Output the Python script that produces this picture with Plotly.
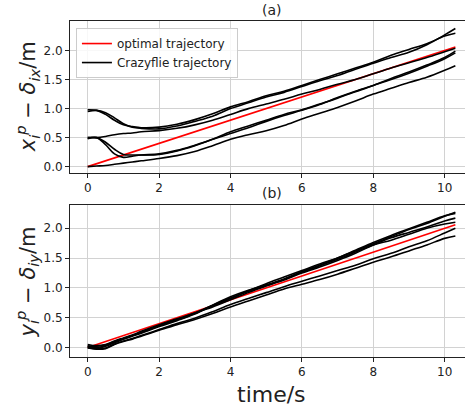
import plotly.graph_objects as go

# time axis (s)
t = [0, 0.25, 0.5, 0.75, 1.0, 1.25, 1.5, 2.0, 2.5, 3.0, 3.5, 4.0, 4.5, 5.0,
     5.5, 6.0, 6.5, 7.0, 7.5, 8.0, 8.5, 9.0, 9.5, 10.0, 10.3]

# optimal trajectory (same for x and y)
opt_t = [0, 10.3]
opt_v = [0.0, 2.06]

# (a) x-direction Crazyflie trajectories
xa1 = [0.98, 0.97, 0.90, 0.80, 0.72, 0.69, 0.67, 0.68, 0.73, 0.81, 0.91, 1.03, 1.12, 1.22,
       1.30, 1.40, 1.50, 1.60, 1.70, 1.80, 1.92, 2.02, 2.12, 2.25, 2.30]
xa2 = [0.95, 0.97, 0.93, 0.84, 0.74, 0.68, 0.66, 0.65, 0.70, 0.78, 0.87, 1.00, 1.10, 1.20,
       1.28, 1.38, 1.48, 1.57, 1.68, 1.78, 1.88, 1.97, 2.10, 2.27, 2.38]
xb = [0.50, 0.50, 0.52, 0.55, 0.57, 0.58, 0.60, 0.62, 0.66, 0.72, 0.80, 0.90, 1.00, 1.08,
      1.16, 1.25, 1.33, 1.42, 1.50, 1.60, 1.70, 1.79, 1.88, 1.98, 2.04]
xc1 = [0.50, 0.50, 0.42, 0.30, 0.21, 0.20, 0.20, 0.21, 0.27, 0.36, 0.47, 0.60, 0.70, 0.80,
       0.90, 0.98, 1.08, 1.18, 1.29, 1.40, 1.52, 1.63, 1.75, 1.88, 1.99]
xc2 = [0.48, 0.50, 0.38, 0.22, 0.16, 0.18, 0.20, 0.22, 0.28, 0.37, 0.47, 0.57, 0.67, 0.78,
       0.88, 0.97, 1.07, 1.19, 1.30, 1.40, 1.50, 1.61, 1.73, 1.86, 1.96]
xd = [0.00, 0.01, 0.02, 0.04, 0.06, 0.08, 0.10, 0.14, 0.19, 0.26, 0.36, 0.47, 0.55, 0.62,
      0.71, 0.82, 0.92, 1.02, 1.13, 1.25, 1.35, 1.45, 1.54, 1.66, 1.74]
x_series = [xa1, xa2, xb, xc1, xc2, xd]

# (b) y-direction Crazyflie trajectories
ye1 = [0.03, 0.02, 0.04, 0.10, 0.15, 0.20, 0.25, 0.36, 0.46, 0.57, 0.70, 0.82, 0.95, 1.07,
       1.18, 1.29, 1.40, 1.50, 1.62, 1.74, 1.86, 1.98, 2.08, 2.20, 2.27]
ye2 = [0.00, -0.02, 0.02, 0.08, 0.14, 0.20, 0.25, 0.37, 0.47, 0.58, 0.68, 0.80, 0.92, 1.03,
       1.14, 1.27, 1.38, 1.50, 1.63, 1.76, 1.88, 1.99, 2.10, 2.21, 2.25]
ye3 = [0.05, 0.03, 0.05, 0.11, 0.16, 0.21, 0.27, 0.38, 0.48, 0.58, 0.71, 0.83, 0.94, 1.04,
       1.13, 1.25, 1.35, 1.46, 1.58, 1.72, 1.84, 1.93, 2.02, 2.12, 2.17]
ye4 = [0.02, 0.00, 0.03, 0.09, 0.14, 0.19, 0.24, 0.35, 0.45, 0.56, 0.71, 0.85, 0.96, 1.05,
       1.15, 1.27, 1.37, 1.48, 1.60, 1.72, 1.80, 1.90, 2.00, 2.07, 2.10]
yf1 = [0.01, -0.02, -0.01, 0.06, 0.11, 0.15, 0.20, 0.30, 0.40, 0.49, 0.60, 0.72, 0.82, 0.92,
       1.02, 1.11, 1.20, 1.29, 1.38, 1.49, 1.58, 1.69, 1.79, 1.92, 2.00]
yf2 = [-0.01, -0.03, -0.02, 0.05, 0.10, 0.14, 0.19, 0.29, 0.38, 0.47, 0.57, 0.68, 0.78, 0.88,
       0.98, 1.06, 1.14, 1.23, 1.33, 1.43, 1.52, 1.62, 1.72, 1.83, 1.87]
y_series = [ye1, ye2, ye3, ye4, yf1, yf2]

x_ticks = [0, 2, 4, 6, 8, 10]
y_ticks = [0.0, 0.5, 1.0, 1.5, 2.0]
y_tick_text = ["0.0", "0.5", "1.0", "1.5", "2.0"]

FONT = "DejaVu Sans"
fig = go.Figure()

# top panel
fig.add_trace(go.Scatter(x=opt_t, y=opt_v, mode="lines", line=dict(color="red", width=1.6),
                         name="optimal trajectory", xaxis="x", yaxis="y"))
for i, s in enumerate(x_series):
    fig.add_trace(go.Scatter(x=t, y=s, mode="lines", line=dict(color="black", width=1.6, shape="spline"),
                             name="Crazyflie trajectory", showlegend=(i == 0), xaxis="x", yaxis="y"))
# bottom panel
fig.add_trace(go.Scatter(x=opt_t, y=opt_v, mode="lines", line=dict(color="red", width=1.6),
                         showlegend=False, xaxis="x2", yaxis="y2"))
for s in y_series:
    fig.add_trace(go.Scatter(x=t, y=s, mode="lines", line=dict(color="black", width=1.6, shape="spline"),
                             showlegend=False, xaxis="x2", yaxis="y2"))

axis_common = dict(showgrid=True, gridcolor="#d2d2d2", gridwidth=1, zeroline=False,
                   showline=True, linecolor="#222", linewidth=1, ticks="outside", ticklen=4,
                   tickcolor="#222", tickfont=dict(family=FONT, size=12, color="#222"))

xr = [-0.496, 10.57]
fig.update_layout(
    width=465, height=408, autosize=False,
    margin=dict(l=70, r=0, t=21, b=51),
    paper_bgcolor="white", plot_bgcolor="white",
    font=dict(family=FONT, color="#222"),
    xaxis=dict(domain=[0, 1], range=xr, anchor="y", tickvals=x_ticks, mirror=True, **axis_common),
    yaxis=dict(domain=[0.5476, 1], range=[-0.11, 2.51], anchor="x", tickvals=y_ticks,
               ticktext=y_tick_text, **axis_common),
    xaxis2=dict(domain=[0, 1], range=xr, anchor="y2", tickvals=x_ticks, mirror=True, **axis_common),
    yaxis2=dict(domain=[0, 0.4524], range=[-0.16, 2.39], anchor="x2", tickvals=y_ticks,
                ticktext=y_tick_text, **axis_common),
    legend=dict(x=0.015, y=0.979, xanchor="left", yanchor="top",
                bgcolor="rgba(255,255,255,0.85)", bordercolor="#cccccc", borderwidth=1,
                font=dict(family=FONT, size=12, color="#222"), tracegroupgap=0),
    showlegend=True,
)

annots = [
    dict(text="(a)", x=0.511, y=1.033, xref="paper", yref="paper", showarrow=False,
         font=dict(family=FONT, size=14, color="#222"), xanchor="center", yanchor="middle"),
    dict(text="(b)", x=0.511, y=0.487, xref="paper", yref="paper", showarrow=False,
         font=dict(family=FONT, size=14, color="#222"), xanchor="center", yanchor="middle"),
    dict(text="time/s", x=0.511, y=-0.113, xref="paper", yref="paper", showarrow=False,
         font=dict(family=FONT, size=22, color="#222"), xanchor="center", yanchor="middle"),
    dict(text="<i>x</i><sub><i>i</i></sub><sup><i>p</i></sup> − <i>δ</i><sub><i>ix</i></sub>/m",
         x=-0.108, y=0.774, xref="paper", yref="paper", showarrow=False, textangle=-90,
         font=dict(family=FONT, size=21, color="#222"), xanchor="center", yanchor="middle"),
    dict(text="<i>y</i><sub><i>i</i></sub><sup><i>p</i></sup> − <i>δ</i><sub><i>iy</i></sub>/m",
         x=-0.108, y=0.223, xref="paper", yref="paper", showarrow=False, textangle=-90,
         font=dict(family=FONT, size=21, color="#222"), xanchor="center", yanchor="middle"),
]
fig.update_layout(annotations=annots)

fig.write_html("out.html")
